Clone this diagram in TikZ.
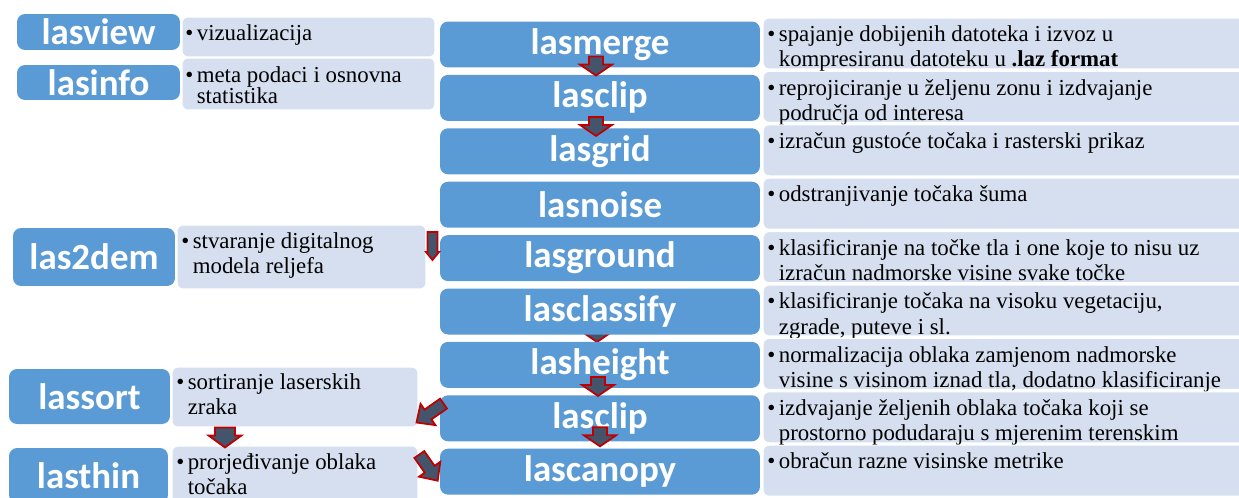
\documentclass[tikz,border=0pt]{standalone}
\usepackage{fontspec}
\setmainfont{Liberation Serif}
\setsansfont{Carlito}
\definecolor{toolblue}{HTML}{5B9BD5}
\definecolor{notefill}{HTML}{D5DFEF}
\definecolor{arrowfill}{HTML}{44546A}
\definecolor{arrowline}{HTML}{C00000}
\newcommand{\bul}{\makebox[0pt][r]{\textbullet\hspace{2pt}}}
\tikzset{
	tool/.style={fill=toolblue,rounded corners=0.16cm,inner sep=0pt,text=white,font=\sffamily\bfseries\fontsize{21}{24}\selectfont},
	note/.style={fill=notefill,draw=white,line width=0.6pt,rounded corners=0.12cm,inner sep=0pt},
	notetext/.style={anchor=north west,inner sep=0pt,align=left,font=\rmfamily\fontsize{13}{14.4}\selectfont},
	flowarrow/.style={fill=arrowfill,draw=arrowline,line width=1pt,line join=miter},
	pics/flow/.style n args={4}{code={\draw[flowarrow] (-#1,-#2) -- (-#4,-#2) -- (-#4,-#3) -- (0,0) -- (-#4,#3) -- (-#4,#2) -- (-#1,#2) -- cycle;}}
}
\begin{document}
\begin{tikzpicture}[x=0.02cm,y=-0.02cm]
		\useasboundingbox (0,0) rectangle (1239,497);
		% left column
		\node[tool,minimum width=3.26cm,minimum height=0.72cm] (view) at (98.5,32) {lasview};
		\node[note,minimum width=5.06cm,minimum height=0.8cm] (viewd) at (308.5,37) {};
		\node[notetext] (viewt) at ([shift={(15,8)}]viewd.north west) {\bul vizualizacija};
		\node[tool,minimum width=3.26cm,minimum height=0.7cm] (info) at (98.5,82.5) {lasinfo};
		\node[note,minimum width=5.06cm,minimum height=1.04cm] (infod) at (308.5,84) {};
		\node[notetext,font=\rmfamily\fontsize{13}{12}\selectfont] (infot) at ([shift={(15,9)}]infod.north west) {\bul meta podaci i osnovna\\statistika};
		\node[tool,minimum width=3.24cm,minimum height=1.16cm] (dem) at (94,257) {las2dem};
		\node[note,minimum width=4.98cm,minimum height=1.28cm] (demd) at (301.5,257) {};
		\node[notetext] (demt) at ([shift={(16,8)}]demd.north west) {\bul stvaranje digitalnog\\modela reljefa};
		\node[tool,minimum width=3.22cm,minimum height=1.1cm] (sort) at (89.5,396.5) {lassort};
		\node[note,minimum width=4.92cm,minimum height=1.2cm] (sortd) at (295,397) {};
		\node[notetext] (sortt) at ([shift={(16,7)}]sortd.north west) {\bul sortiranje laserskih\\zraka};
		\node[tool,minimum width=3.18cm,minimum height=1.1cm] (thin) at (88.5,475.5) {lasthin};
		\node[note,minimum width=4.92cm,minimum height=1.2cm] (thind) at (295,476) {};
		\node[notetext] (thint) at ([shift={(16,8)}]thind.north west) {\bul prorjeđivanje oblaka\\točaka};
		% middle column
		\coordinate (hgap) at (597,342);
		\pic[rotate=-90] at (hgap) {flow={19}{7}{16}{11}};
		\node[tool,minimum width=6.4cm,minimum height=0.92cm] (merge) at (600,44.5) {lasmerge};
		\node[tool,minimum width=6.4cm,minimum height=0.92cm] (clipa) at (600,97.9) {lasclip};
		\node[tool,minimum width=6.4cm,minimum height=0.92cm] (grid) at (600,151.3) {lasgrid};
		\node[tool,minimum width=6.4cm,minimum height=0.92cm] (noise) at (600,204.7) {lasnoise};
		\node[tool,minimum width=6.4cm,minimum height=0.92cm] (ground) at (600,258.1) {lasground};
		\node[tool,minimum width=6.4cm,minimum height=0.92cm] (classify) at (600,311.5) {lasclassify};
		\node[tool,minimum width=6.4cm,minimum height=0.92cm] (height) at (600,364.9) {lasheight};
		\node[tool,minimum width=6.4cm,minimum height=0.92cm] (clipb) at (600,418.3) {lasclip};
		\node[tool,minimum width=6.4cm,minimum height=0.92cm] (canopy) at (600,471.7) {lascanopy};
		% right column
		\node[note,minimum width=9.74cm,minimum height=1.02cm] (dmerge) at (1006.5,43.5) {};
		\node[notetext] (tmerge) at ([shift={(16,8)}]dmerge.north west) {\bul spajanje dobijenih datoteka i izvoz u\\kompresiranu datoteku u \textbf{.laz format}};
		\node[note,minimum width=9.74cm,minimum height=1.02cm] (dclipa) at (1006.5,96.9) {};
		\node[notetext] (tclipa) at ([shift={(16,8)}]dclipa.north west) {\bul reprojiciranje u željenu zonu i izdvajanje\\područja od interesa};
		\node[note,minimum width=9.74cm,minimum height=1.02cm] (dgrid) at (1006.5,150.3) {};
		\node[notetext] (tgrid) at ([shift={(16,8)}]dgrid.north west) {\bul izračun gustoće točaka i rasterski prikaz};
		\node[note,minimum width=9.74cm,minimum height=1.02cm] (dnoise) at (1006.5,203.7) {};
		\node[notetext] (tnoise) at ([shift={(16,8)}]dnoise.north west) {\bul odstranjivanje točaka šuma};
		\node[note,minimum width=9.74cm,minimum height=1.02cm] (dground) at (1006.5,257.1) {};
		\node[notetext] (tground) at ([shift={(16,8)}]dground.north west) {\bul klasificiranje na točke tla i one koje to nisu uz\\izračun nadmorske visine svake točke};
		\node[note,minimum width=9.74cm,minimum height=1.02cm] (dclassify) at (1006.5,310.5) {};
		\node[notetext] (tclassify) at ([shift={(16,8)}]dclassify.north west) {\bul klasificiranje točaka na visoku vegetaciju,\\zgrade, puteve i sl.};
		\node[note,minimum width=9.74cm,minimum height=1.02cm] (dheight) at (1006.5,363.9) {};
		\node[notetext] (theight) at ([shift={(16,8)}]dheight.north west) {\bul normalizacija oblaka zamjenom nadmorske\\visine s visinom iznad tla, dodatno klasificiranje};
		\node[note,minimum width=9.74cm,minimum height=1.02cm] (dclipb) at (1006.5,417.3) {};
		\node[notetext] (tclipb) at ([shift={(16,8)}]dclipb.north west) {\bul izdvajanje željenih oblaka točaka koji se\\prostorno podudaraju s mjerenim terenskim};
		\node[note,minimum width=9.74cm,minimum height=1.02cm] (dcanopy) at (1006.5,470.7) {};
		\node[notetext] (tcanopy) at ([shift={(16,8)}]dcanopy.north west) {\bul obračun razne visinske metrike};
		% block arrows
		\pic[rotate=-90] at ([shift={(-4,1)}]clipa.north) {flow={19}{7}{16}{11}};
		\pic[rotate=-90] at ([shift={(-4,8)}]grid.north) {flow={19}{7}{16}{11}};
		\pic[rotate=-90] at ([shift={(-2,1)}]clipb.north) {flow={19}{7}{16}{11}};
		\pic[rotate=-90] at ([shift={(0,-2)}]canopy.north) {flow={19}{7}{16}{11}};
		\pic[rotate=-90] at ([shift={(6,3)}]demd.east) {flow={28}{5}{6.5}{8}};
		\pic[rotate=-90] at ([shift={(-70,2)}]thind.north) {flow={20}{10}{16.5}{12}};
		\pic[rotate=215] at ([shift={(-2,-5)}]sortd.south east) {flow={33}{6}{13}{14}};
		\pic[rotate=-55] at ([shift={(-2,9)}]canopy.west) {flow={32}{6}{13}{14}};
		\end{tikzpicture}
\end{document}
